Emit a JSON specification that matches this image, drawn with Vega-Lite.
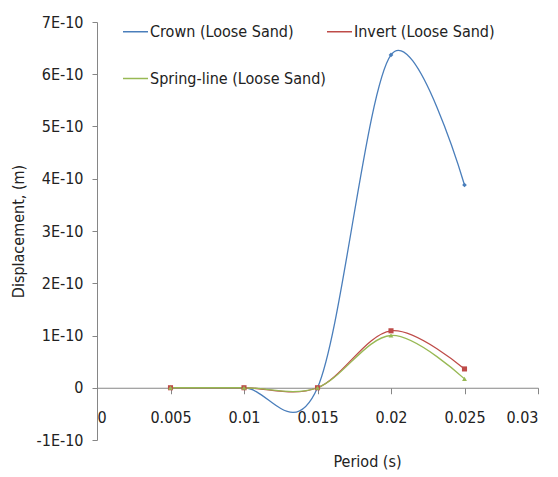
{
  "$schema": "https://vega.github.io/schema/vega-lite/v6.json",
  "width": 441,
  "height": 418,
  "autosize": {"type": "none"},
  "padding": {"left": 97, "top": 22, "right": 20, "bottom": 37},
  "background": "white",
  "config": {
    "view": {"stroke": null},
    "font": "DejaVu Sans Condensed",
    "axis": {"labelFont": "DejaVu Sans Condensed", "titleFont": "DejaVu Sans Condensed", "labelColor": "#222222", "titleColor": "#222222", "labelFontSize": 16, "titleFontSize": 16, "titleFontWeight": "normal", "grid": false, "domainColor": "#868686", "tickColor": "#868686"},
    "legend": {"labelFont": "DejaVu Sans Condensed", "labelFontSize": 16, "labelColor": "#222222", "labelLimit": 0}
  },
  "data": {
    "values": [
      {"period": 0.005, "displacement": 0, "series": "Crown (Loose Sand)"},
      {"period": 0.01, "displacement": 0, "series": "Crown (Loose Sand)"},
      {"period": 0.015, "displacement": 0, "series": "Crown (Loose Sand)"},
      {"period": 0.02, "displacement": 6.37e-10, "series": "Crown (Loose Sand)"},
      {"period": 0.025, "displacement": 3.88e-10, "series": "Crown (Loose Sand)"},
      {"period": 0.005, "displacement": 0, "series": "Invert (Loose Sand)"},
      {"period": 0.01, "displacement": 0, "series": "Invert (Loose Sand)"},
      {"period": 0.015, "displacement": 0, "series": "Invert (Loose Sand)"},
      {"period": 0.02, "displacement": 1.09e-10, "series": "Invert (Loose Sand)"},
      {"period": 0.025, "displacement": 0.36e-10, "series": "Invert (Loose Sand)"},
      {"period": 0.005, "displacement": 0, "series": "Spring-line (Loose Sand)"},
      {"period": 0.01, "displacement": 0, "series": "Spring-line (Loose Sand)"},
      {"period": 0.015, "displacement": 0, "series": "Spring-line (Loose Sand)"},
      {"period": 0.02, "displacement": 1.0e-10, "series": "Spring-line (Loose Sand)"},
      {"period": 0.025, "displacement": 0.17e-10, "series": "Spring-line (Loose Sand)"}
    ]
  },
  "encoding": {
    "x": {
      "field": "period", "type": "quantitative",
      "scale": {"domain": [0, 0.03], "nice": false, "zero": false},
      "axis": {
        "title": "Period (s)",
        "values": [0, 0.005, 0.01, 0.015, 0.02, 0.025, 0.03],
        "format": ".3~f",
        "offset": -52.25,
        "tickSize": 6,
        "labelPadding": 16,
        "titleX": 270,
        "titleY": 66,
        "titleAnchor": null,
        "titleAlign": "center",
        "titleBaseline": "top"
      }
    },
    "y": {
      "field": "displacement", "type": "quantitative",
      "scale": {"domain": [-1e-10, 7e-10], "nice": false, "zero": false},
      "axis": {
        "title": "Displacement, (m)",
        "values": [-1e-10, 0, 1e-10, 2e-10, 3e-10, 4e-10, 5e-10, 6e-10, 7e-10],
        "labelExpr": "datum.value == 0 ? '0' : (round(datum.value * 1e10) + 'E-10')",
        "tickSize": 5,
        "labelPadding": 9,
        "titleX": -79,
        "titleY": 209,
        "titleAngle": -90,
        "titleAlign": "center",
        "titleBaseline": "middle"
      }
    },
    "color": {
      "field": "series", "type": "nominal",
      "scale": {"domain": ["Crown (Loose Sand)", "Invert (Loose Sand)", "Spring-line (Loose Sand)"], "range": ["#4A7EBB", "#BE4B48", "#98B954"]},
      "legend": {
        "title": null,
        "orient": "none",
        "legendX": 25,
        "legendY": -4,
        "columns": 2,
        "direction": "horizontal",
        "columnPadding": -8,
        "rowPadding": 25,
        "symbolType": "stroke",
        "symbolSize": 625,
        "symbolStrokeWidth": 1.5,
        "labelOffset": 1
      }
    }
  },
  "layer": [
    {"mark": {"type": "line", "interpolate": "cardinal", "strokeWidth": 1.3}},
    {"transform": [{"filter": "datum.series == 'Crown (Loose Sand)'"}], "mark": {"type": "point", "shape": "diamond", "filled": true, "size": 22, "opacity": 1}},
    {"transform": [{"filter": "datum.series == 'Invert (Loose Sand)'"}], "mark": {"type": "point", "shape": "square", "filled": true, "size": 26, "opacity": 1}},
    {"transform": [{"filter": "datum.series == 'Spring-line (Loose Sand)'"}], "mark": {"type": "point", "shape": "triangle-up", "filled": true, "size": 24, "opacity": 1}}
  ]
}
